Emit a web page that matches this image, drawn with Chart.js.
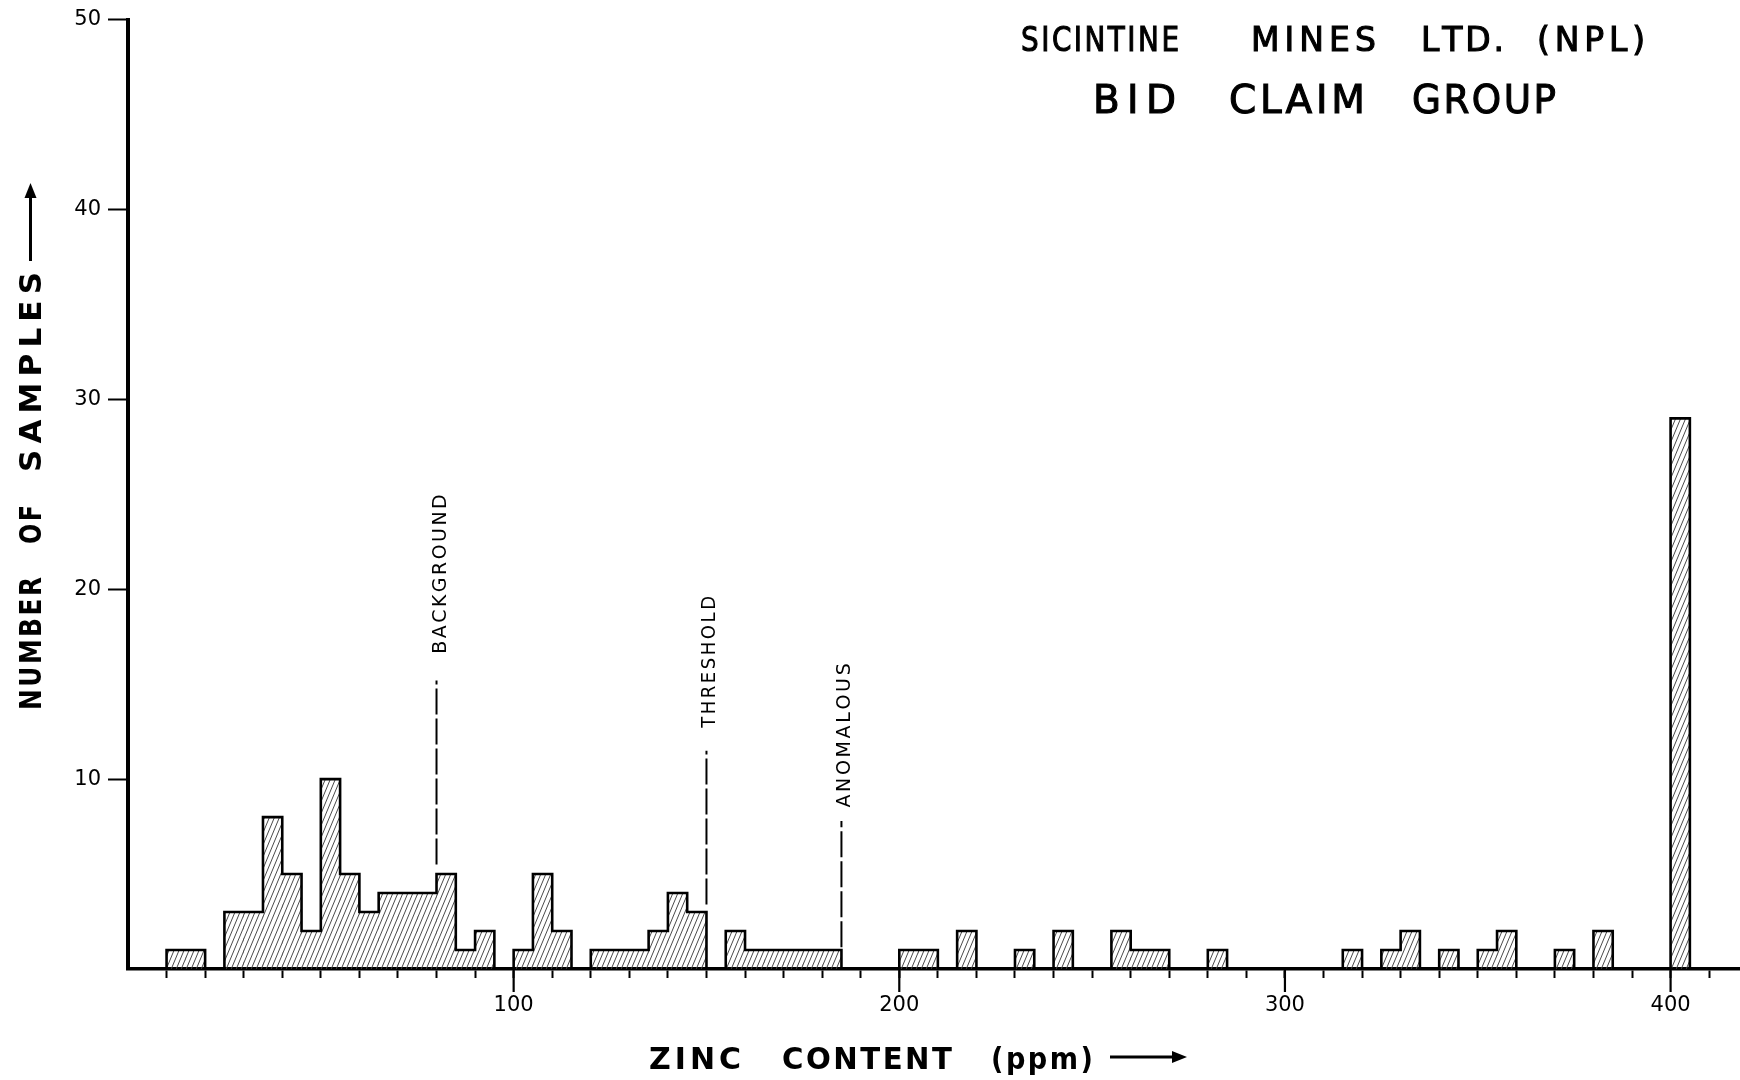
<!DOCTYPE html>
<html>
<head>
<meta charset="utf-8">
<script src="https://cdn.jsdelivr.net/npm/chart.js@4.4.1/dist/chart.umd.min.js"></script>
<style>
html,body{margin:0;padding:0;background:#fff;}
canvas{display:block;}
</style>
</head>
<body>
<canvas id="c" width="1740" height="1080"></canvas>
<script>
// ---------- DATA ----------
const binWidth = 5; // ppm per histogram class
const binLow = [10,15,25,30,35,40,45,50,55,60,65,70,75,80,85,90,100,105,110,120,125,130,135,140,145,155,160,165,170,175,180,200,205,215,230,240,255,260,265,280,315,325,330,340,350,355,370,380,400];
const binCount = [1,1,3,3,8,5,2,10,5,3,4,4,4,5,1,2,1,5,2,1,1,1,2,4,3,2,1,1,1,1,1,1,1,2,1,2,2,1,1,1,1,1,2,1,1,2,1,2,29];
const markerLabels = ['BACKGROUND','THRESHOLD','ANOMALOUS'];
const markerPpm = [80,150,185];
const xTickLabels = ['100','200','300','400'];
const yTickLabels = ['10','20','30','40','50'];
const titleLines = [['SICINTINE','MINES','LTD.','(NPL)'],['BID','CLAIM','GROUP']];
const xTitleWords = ['ZINC','CONTENT','(ppm)'];
const yTitleWords = ['NUMBER','OF','SAMPLES'];

// ---------- LAYOUT / STYLE (not data) ----------
const LAYOUT = {
  xMax: 418, yMax: 50,
  markerLineSpan: [[5.5,15.2],[3.4,11.5],[1.15,7.8]],
  markerTextSpan: [[16.6,25.0],[12.7,19.65],[8.5,16.1]],
  title: [
    {font:'33px "DejaVu Sans"', baseline:51, spans:[[1021,1179],[1251,1376],[1421,1504],[1537,1645]]},
    {font:'39px "DejaVu Sans"', baseline:113, spans:[[1093,1176],[1229,1365],[1412,1556]]}
  ],
  xTitle: {font:'bold 30px "DejaVu Sans"', baseline:1069, spans:[[649,741],[782,952],[991,1093]], arrow:[1110,1187,1057]},
  yTitle: {font:'bold 31px "DejaVu Sans"', baseline:41, spans:[[710,577],[544,505],[472,272]], arrow:[261,183,30.5]}
};

const canvas = document.getElementById('c');
const ctx = canvas.getContext('2d');

function makeHatch() {
  const t = document.createElement('canvas');
  t.width = 5; t.height = 12;
  const g = t.getContext('2d');
  g.strokeStyle = '#4a4a4a';
  g.lineWidth = 1;
  g.beginPath();
  for (const dx of [-5, 0, 5]) { g.moveTo(dx, 12); g.lineTo(dx + 5, 0); }
  g.stroke();
  return ctx.createPattern(t, 'repeat');
}

// bars (class centres)
const barData = binLow.map((lo, i) => ({x: lo + binWidth / 2, y: binCount[i]}));
// step outline of the histogram built from the same arrays
const outline = [];
binLow.forEach((lo, i) => {
  if (i === 0 || binLow[i - 1] + binWidth !== lo) outline.push({x: lo, y: 0});
  outline.push({x: lo, y: binCount[i]});
  if (i === binLow.length - 1 || binLow[i + 1] !== lo + binWidth) outline.push({x: lo + binWidth, y: 0});
});

const markerSets = markerPpm.map((p, i) => ({
  type: 'line',
  data: [{x: p, y: LAYOUT.markerLineSpan[i][0]}, {x: p, y: LAYOUT.markerLineSpan[i][1]}],
  borderColor: '#000', borderWidth: 2, borderDash: [26, 4],
  pointRadius: 0, fill: false, order: 0
}));

// draws a word so it spans x0..x1; squeezes glyphs horizontally if needed
function fitWord(c, word, x0, x1, baseline) {
  const chars = [...word];
  const w = chars.map(ch => c.measureText(ch).width);
  const nat = w.reduce((a, b) => a + b, 0);
  const n = chars.length;
  const span = x1 - x0;
  const minGap = 2.5;
  let sx = 1, gap = n > 1 ? (span - nat) / (n - 1) : 0;
  if (n > 1 && gap < minGap) { gap = minGap; sx = (span - minGap * (n - 1)) / nat; }
  let x = n > 1 ? x0 : (x0 + x1 - nat) / 2;
  chars.forEach((ch, i) => {
    c.save();
    c.translate(x, baseline); c.scale(sx, 1);
    c.fillText(ch, 0, 0);
    if (c.__stroke) c.strokeText(ch, 0, 0);
    c.restore();
    x += w[i] * sx + gap;
  });
}

const decor = {
  id: 'decor',
  afterDraw(chart) {
    const c = chart.ctx;
    const xs = chart.scales.x, ys = chart.scales.y;
    c.save();
    c.fillStyle = '#000'; c.strokeStyle = '#000';
    c.textBaseline = 'alphabetic'; c.textAlign = 'left';

    // long ticks at labelled hundreds
    c.lineWidth = 2.2;
    xs.ticks.forEach(t => {
      if (xTickLabels.includes(String(t.value))) {
        const px = xs.getPixelForValue(t.value);
        c.beginPath(); c.moveTo(px, xs.top); c.lineTo(px, xs.top + 23); c.stroke();
      }
    });

    // titles
    LAYOUT.title.forEach((ln, k) => {
      c.font = ln.font;
      c.lineWidth = 1.1; c.__stroke = true;
      titleLines[k].forEach((w, j) => fitWord(c, w, ln.spans[j][0], ln.spans[j][1], ln.baseline));
      c.__stroke = false;
    });

    // x title + arrow
    const xt = LAYOUT.xTitle;
    c.font = xt.font;
    xTitleWords.forEach((w, j) => fitWord(c, w, xt.spans[j][0], xt.spans[j][1], xt.baseline));
    c.lineWidth = 3;
    c.beginPath(); c.moveTo(xt.arrow[0], xt.arrow[2]); c.lineTo(xt.arrow[1] - 12, xt.arrow[2]); c.stroke();
    c.beginPath(); c.moveTo(xt.arrow[1], xt.arrow[2]); c.lineTo(xt.arrow[1] - 15, xt.arrow[2] - 6); c.lineTo(xt.arrow[1] - 15, xt.arrow[2] + 6); c.closePath(); c.fill();

    // y title + arrow
    const yt = LAYOUT.yTitle;
    c.save();
    c.translate(yt.baseline, 0); c.rotate(-Math.PI / 2);
    c.font = yt.font;
    yTitleWords.forEach((w, j) => fitWord(c, w, -yt.spans[j][0], -yt.spans[j][1], 0));
    c.restore();
    c.lineWidth = 3;
    c.beginPath(); c.moveTo(yt.arrow[2], yt.arrow[0]); c.lineTo(yt.arrow[2], yt.arrow[1] + 12); c.stroke();
    c.beginPath(); c.moveTo(yt.arrow[2], yt.arrow[1]); c.lineTo(yt.arrow[2] - 6, yt.arrow[1] + 15); c.lineTo(yt.arrow[2] + 6, yt.arrow[1] + 15); c.closePath(); c.fill();

    // marker labels
    c.font = '19px "DejaVu Sans"';
    markerPpm.forEach((p, i) => {
      const px = xs.getPixelForValue(p);
      const yb = ys.getPixelForValue(LAYOUT.markerTextSpan[i][0]);
      const yT = ys.getPixelForValue(LAYOUT.markerTextSpan[i][1]);
      c.save();
      c.translate(px + 9, 0); c.rotate(-Math.PI / 2);
      fitWord(c, markerLabels[i], -yb, -yT, 0);
      c.restore();
    });
    c.restore();
  }
};

new Chart(ctx, {
  type: 'bar',
  data: {
    datasets: [
      {type: 'line', data: outline, stepped: 'before', borderColor: '#000', borderWidth: 2.6,
       pointRadius: 0, fill: false, order: 0, borderJoinStyle: 'miter'},
      ...markerSets,
      {type: 'bar', data: barData, backgroundColor: makeHatch(), borderWidth: 0,
       barPercentage: 1, categoryPercentage: 1, order: 5}
    ]
  },
  options: {
    responsive: false, devicePixelRatio: 1, animation: false, events: [],
    layout: {padding: {top: 15, right: 0, bottom: 0, left: 0}},
    plugins: {legend: {display: false}, tooltip: {enabled: false}, title: {display: false}},
    scales: {
      x: {
        type: 'linear', min: 0, max: LAYOUT.xMax, offset: false,
        afterFit(s) { s.height = 111; },
        grid: {drawOnChartArea: false, offset: false, tickLength: 9, tickWidth: 2,
               tickColor: c => (c.tick && c.tick.value === 0) ? 'rgba(0,0,0,0)' : '#000'},
        border: {display: true, color: '#000', width: 3.5},
        ticks: {stepSize: 10, includeBounds: false, autoSkip: false, maxRotation: 0, minRotation: 0,
                padding: 15, color: '#000', font: {family: 'DejaVu Sans', size: 21},
                callback: v => xTickLabels.includes(String(v)) ? String(v) : ''}
      },
      y: {
        min: 0, max: LAYOUT.yMax,
        afterFit(s) { s.width = 128; },
        grid: {drawOnChartArea: false, tickLength: 20, tickWidth: 2,
               tickColor: c => (c.tick && c.tick.value === 0) ? 'rgba(0,0,0,0)' : '#000'},
        border: {display: true, color: '#000', width: 4},
        ticks: {stepSize: 10, padding: 7, color: '#000', font: {family: 'DejaVu Sans', size: 21},
                callback: v => yTickLabels.includes(String(v)) ? String(v) : ''}
      }
    }
  },
  plugins: [decor]
});
</script>
</body>
</html>
